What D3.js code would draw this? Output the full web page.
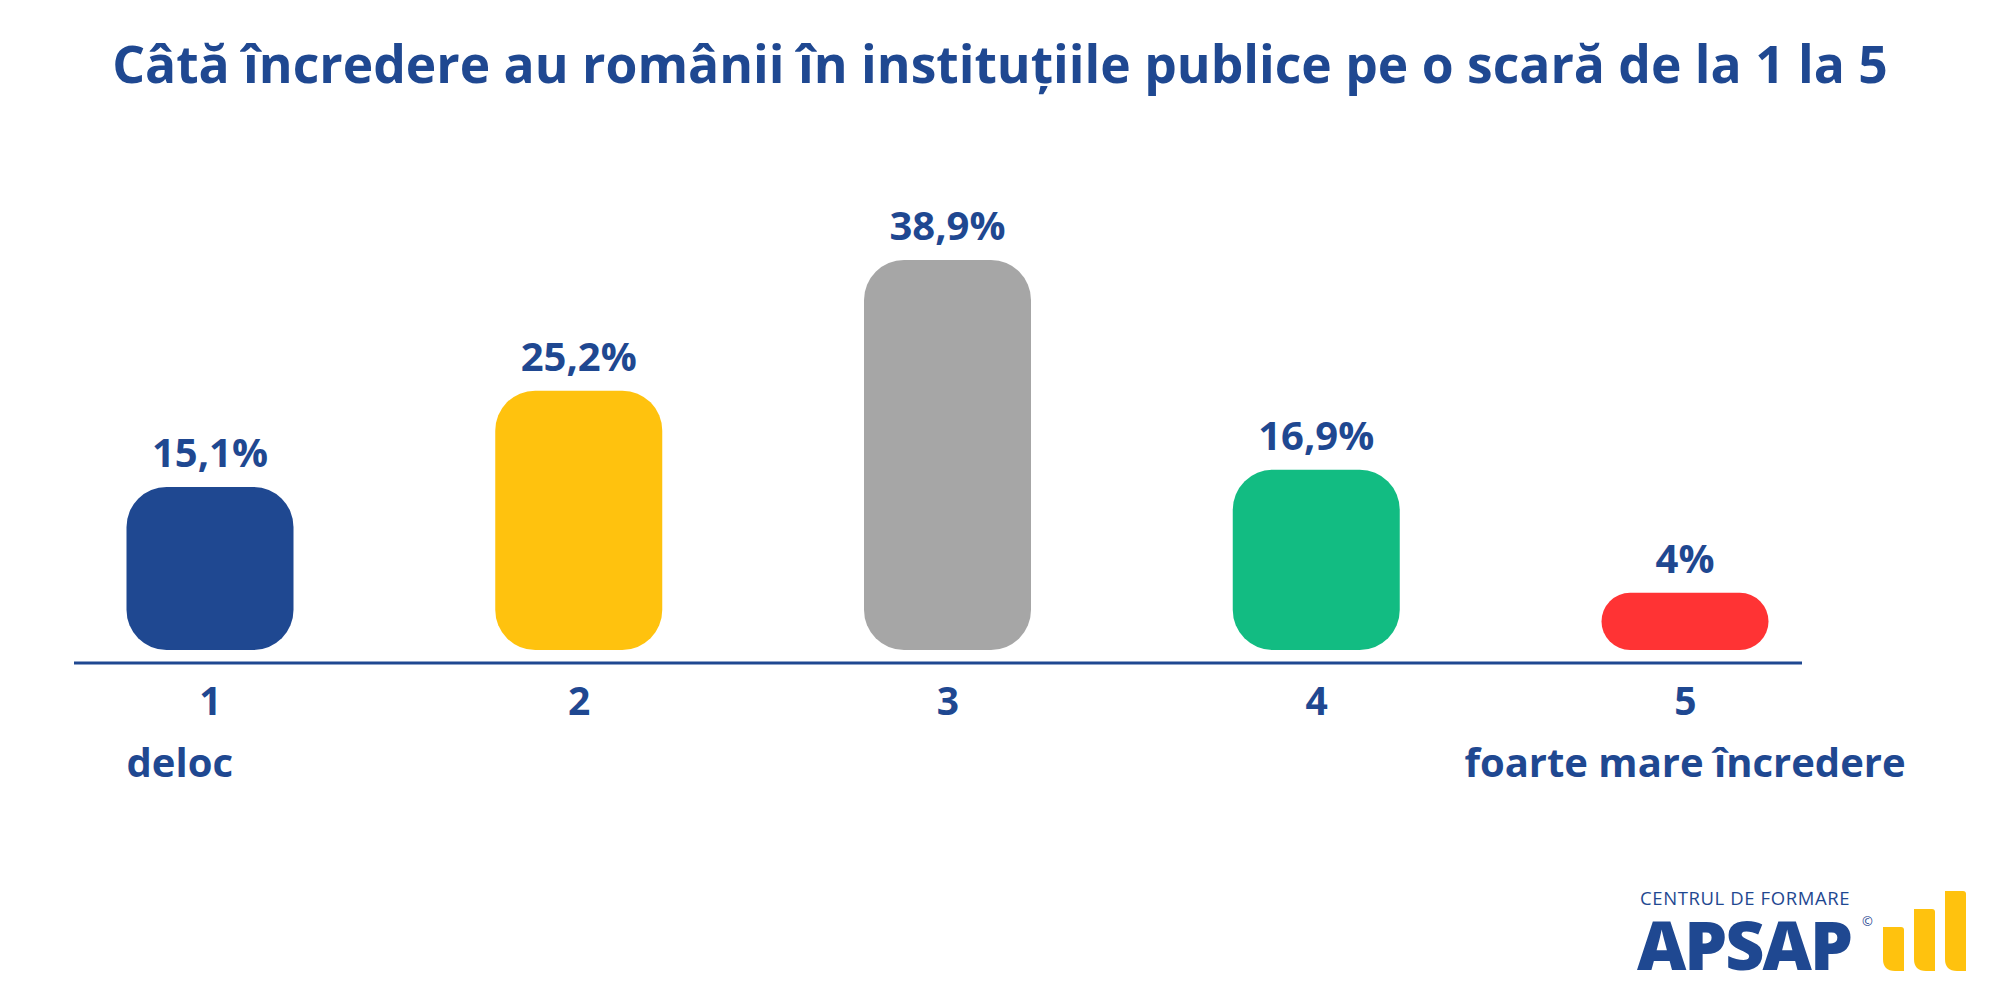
<!DOCTYPE html>
<html lang="ro">
<head>
    <meta charset="UTF-8">
    <title>Încredere în instituțiile publice</title>
    <script src="https://d3js.org/d3.v7.min.js"></script>
    <style>
        html, body { margin: 0; padding: 0; background: #fff; }
        svg { display: block; }
        text { font-family: "Open Sans", "Noto Sans", sans-serif; }
    </style>
</head>
<body>
    <svg></svg>
    <script>
        // chart data
        const categories = ["1", "2", "3", "4", "5"];
        const values = [15.1, 25.2, 38.9, 16.9, 4];
        const valueLabels = ["15,1%", "25,2%", "38,9%", "16,9%", "4%"];
        const barColors = ["#1f4891", "#ffc20e", "#a6a6a6", "#12bc82", "#ff3334"];
        const endLabels = ["deloc", "", "", "", "foarte mare încredere"];
        const title = "Câtă încredere au românii în instituțiile publice pe o scară de la 1 la 5";

        const width = 2000;
        const height = 1001;
        const blue = "#1f4891";

        const svg = d3.select("svg")
            .attr("width", width)
            .attr("height", height);

        const axisY = 663;
        const barBottom = 650;

        const x = d3.scalePoint()
            .domain(categories)
            .range([210, 1685]);

        // bars are not drawn from a zero baseline in the original, so the domain starts a bit below
        const y = d3.scaleLinear()
            .domain([-2, 38.9])
            .range([barBottom, 260]);

        const barWidth = 167;

        // title, fitted to the width of the original
        const t = svg.append("text")
            .attr("x", width / 2)
            .attr("y", 83)
            .attr("text-anchor", "middle")
            .attr("font-weight", 700)
            .attr("font-size", 58)
            .attr("fill", blue)
            .text(title);
        const tw = t.node().getComputedTextLength();
        t.attr("font-size", 58 * 1776 / tw);

        const data = categories.map((c, i) => ({
            cat: c, value: values[i], label: valueLabels[i], color: barColors[i], end: endLabels[i]
        }));

        // bars
        svg.selectAll("rect.bar")
            .data(data)
            .join("rect")
            .attr("class", "bar")
            .attr("x", d => x(d.cat) - barWidth / 2)
            .attr("y", d => y(d.value))
            .attr("width", barWidth)
            .attr("height", d => barBottom - y(d.value))
            .attr("rx", d => Math.min(40, (barBottom - y(d.value)) / 2))
            .attr("fill", d => d.color);

        // value labels
        svg.selectAll("text.value")
            .data(data)
            .join("text")
            .attr("class", "value")
            .attr("x", d => x(d.cat))
            .attr("y", d => y(d.value) - 20)
            .attr("text-anchor", "middle")
            .attr("font-weight", 700)
            .attr("font-size", 40)
            .attr("fill", blue)
            .text(d => d.label);

        // axis line spans wider than the bars
        svg.append("line")
            .attr("x1", 74)
            .attr("x2", 1802)
            .attr("y1", axisY)
            .attr("y2", axisY)
            .attr("stroke", blue)
            .attr("stroke-width", 3);

        const axis = svg.append("g")
            .attr("transform", `translate(0,${axisY})`)
            .call(d3.axisBottom(x).tickSize(0).tickSizeOuter(0).tickPadding(24));
        axis.select(".domain").remove();
        axis.selectAll(".tick text")
            .attr("font-family", "\"Open Sans\", sans-serif")
            .attr("font-weight", 700)
            .attr("font-size", 39)
            .attr("fill", blue);

        // scale end labels
        svg.selectAll("text.end")
            .data(data.filter(d => d.end))
            .join("text")
            .attr("class", "end")
            .attr("x", (d, i) => i === 0 ? x(d.cat) - barWidth / 2 : x(d.cat))
            .attr("y", 777)
            .attr("text-anchor", (d, i) => i === 0 ? "start" : "middle")
            .attr("font-weight", 700)
            .attr("font-size", 40)
            .attr("fill", blue)
            .text(d => d.end);

        // logo
        const logo = svg.append("g");
        logo.append("text")
            .attr("x", 1640)
            .attr("y", 905)
            .attr("font-size", 18.5)
            .attr("letter-spacing", 0.6)
            .attr("fill", blue)
            .text("CENTRUL DE FORMARE");
        logo.append("text")
            .attr("x", 1637)
            .attr("y", 970)
            .attr("font-size", 68)
            .attr("font-weight", 800)
            .attr("letter-spacing", -2)
            .attr("fill", blue)
            .text("APSAP");
        logo.append("text")
            .attr("x", 1862)
            .attr("y", 926)
            .attr("font-size", 13)
            .attr("fill", blue)
            .text("©");
        const logoBars = [[1883, 927], [1914, 909], [1945, 891]];
        logo.selectAll("path")
            .data(logoBars)
            .join("path")
            .attr("d", d => {
                const [x0, top] = d, w = 21, bot = 971, r = 12, r2 = 3;
                return `M${x0},${top}H${x0 + w - r2}Q${x0 + w},${top} ${x0 + w},${top + r2}` +
                    `V${bot}H${x0 + r}Q${x0},${bot} ${x0},${bot - r}Z`;
            })
            .attr("fill", "#ffc20e");
    </script>
</body>
</html>
